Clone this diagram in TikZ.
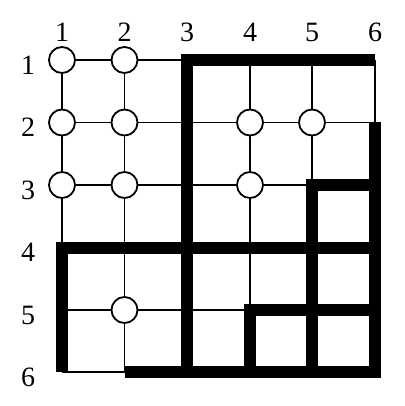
\documentclass[tikz,border=0pt]{standalone}
\usepackage{fontspec}
\setmainfont{Liberation Serif}
\begin{document}
\begin{tikzpicture}[x=1pt,y=-1pt,
  thin line/.style={line width=1.8pt},
  thick line/.style={line width=12pt,line join=miter,line cap=butt},
  vertex/.style={circle,draw,line width=1.8pt,fill=white,minimum size=26pt,inner sep=0pt},
  lab/.style={font=\fontsize{28}{28}\selectfont,inner sep=0pt}]
\useasboundingbox (0,0) rectangle (404,406);
\def\xs{{0,62,124.5,187,250,312,375}}
\def\ys{{0,60,122.5,185,247.5,310,372}}
% named grid coordinates
\foreach \i in {1,...,6}{
  \foreach \j in {1,...,6}{
    \pgfmathsetmacro\xx{\xs[\i]}
    \pgfmathsetmacro\yy{\ys[\j]}
    \coordinate (p\i\j) at (\xx,\yy);
  }
}
% thin grid
\foreach \i in {1,...,6}{
  \draw[thin line] (p\i1) -- (p\i6);
  \draw[thin line] (p1\i) -- (p6\i);
}
% thick walls
\draw[thick line] (p61) -- (p31) -- (p36);
\draw[thick line] (p26) -- (p66) -- (p62);
\draw[thick line] (p16) -- (p14) -- (p64);
\draw[thick line] (p56) -- (p53) -- (p63);
\draw[thick line] (p65) -- (p45) -- (p46);
% vertices
\foreach \c/\r in {1/1,2/1,1/2,2/2,4/2,5/2,1/3,2/3,4/3,2/5}{
  \node[vertex] (v\c\r) at (p\c\r) {};
}
% labels
\foreach \i in {1,...,6}{
  \pgfmathsetmacro\xx{\xs[\i]}
  \pgfmathsetmacro\yy{\ys[\i]+5}
  \node[lab] (t\i) at (\xx,32) {\i};
  \node[lab] (l\i) at (28,\yy) {\i};
}
\end{tikzpicture}
\end{document}
